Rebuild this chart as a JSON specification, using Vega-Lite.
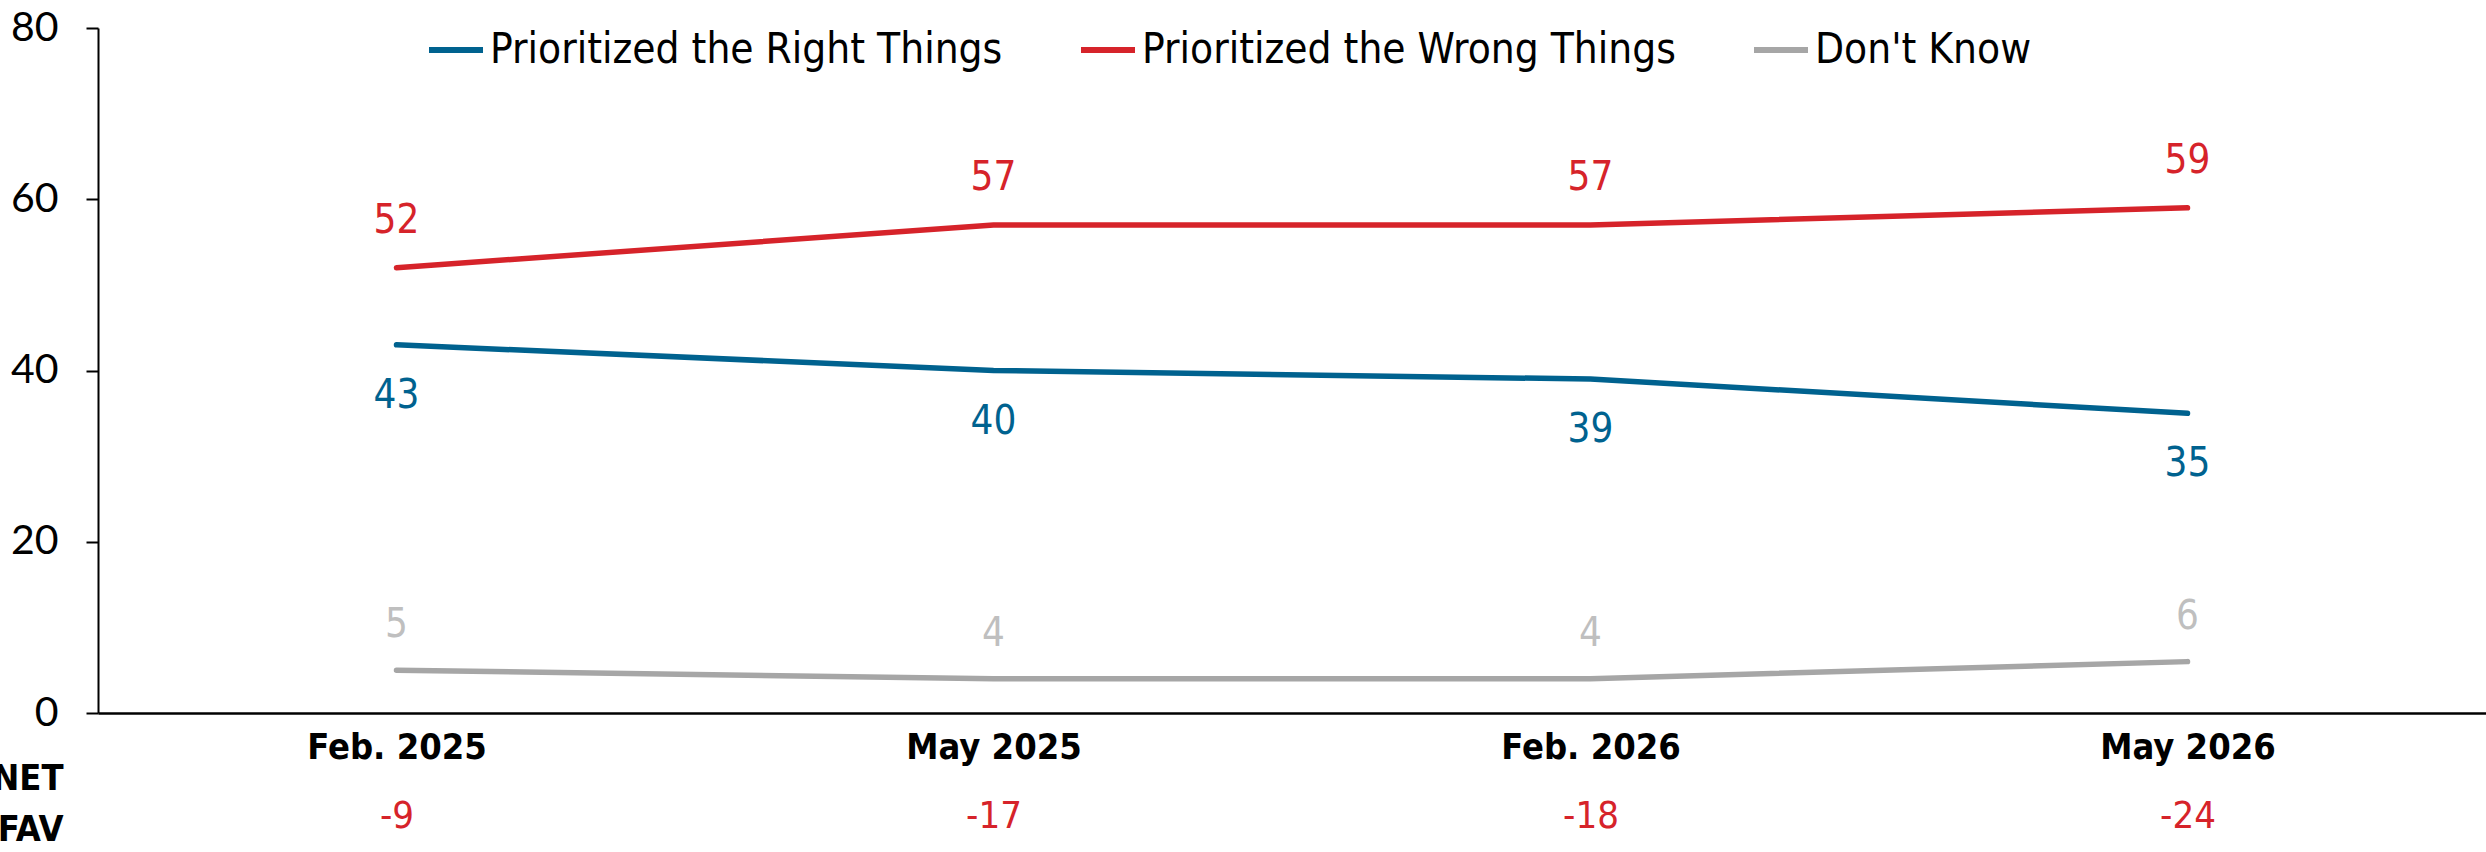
{
  "$schema": "https://vega.github.io/schema/vega-lite/v6.json",
  "autosize": {"type": "none"},
  "width": 2388,
  "height": 685,
  "padding": {"left": 98, "top": 28, "right": 0, "bottom": 139},
  "background": "white",
  "config": {"view": {"stroke": null}, "font": "DejaVu Sans Condensed, Roboto"},
  "datasets": {
    "series": [
      {"period": "Feb. 2025", "series": "Prioritized the Right Things", "value": 43},
      {"period": "May 2025", "series": "Prioritized the Right Things", "value": 40},
      {"period": "Feb. 2026", "series": "Prioritized the Right Things", "value": 39},
      {"period": "May 2026", "series": "Prioritized the Right Things", "value": 35},
      {"period": "Feb. 2025", "series": "Prioritized the Wrong Things", "value": 52},
      {"period": "May 2025", "series": "Prioritized the Wrong Things", "value": 57},
      {"period": "Feb. 2026", "series": "Prioritized the Wrong Things", "value": 57},
      {"period": "May 2026", "series": "Prioritized the Wrong Things", "value": 59},
      {"period": "Feb. 2025", "series": "Don't Know", "value": 5},
      {"period": "May 2025", "series": "Don't Know", "value": 4},
      {"period": "Feb. 2026", "series": "Don't Know", "value": 4},
      {"period": "May 2026", "series": "Don't Know", "value": 6}
    ],
    "net": [
      {"period": "Feb. 2025", "net": "-9"},
      {"period": "May 2025", "net": "-17"},
      {"period": "Feb. 2026", "net": "-18"},
      {"period": "May 2026", "net": "-24"}
    ]
  },
  "layer": [
    {
      "data": {"name": "series"},
      "encoding": {
        "x": {
          "field": "period", "type": "ordinal", "sort": null,
          "scale": {"type": "point", "padding": 0.5},
          "axis": {
            "title": null, "labelAngle": 0, "domainColor": "black", "domainWidth": 2.5,
            "ticks": false, "tickSize": 0, "labelPadding": 34, "labelBaseline": "middle",
            "labelFont": "DejaVu Sans Condensed, Roboto", "labelFontWeight": "bold", "labelFontSize": 36,
            "labelColor": "black", "labelLimit": 1000
          }
        },
        "y": {
          "field": "value", "type": "quantitative",
          "scale": {"domain": [0, 80]},
          "axis": {
            "title": null, "values": [0, 20, 40, 60, 80], "grid": false,
            "domainColor": "black", "domainWidth": 2, "tickColor": "black", "tickWidth": 2,
            "tickSize": 12, "labelPadding": 28, "labelFont": "Lato", "labelFontSize": 41,
            "labelColor": "black"
          }
        },
        "color": {
          "field": "series", "type": "nominal",
          "scale": {
            "domain": ["Prioritized the Right Things", "Prioritized the Wrong Things", "Don't Know"],
            "range": ["#00628F", "#D6232A", "#A6A6A6"]
          },
          "legend": {
            "orient": "none", "legendX": 328, "legendY": -8, "direction": "horizontal",
            "title": null, "symbolType": "stroke", "symbolSize": 2916, "symbolStrokeWidth": 6,
            "labelFont": "DejaVu Sans Condensed, Roboto", "labelFontSize": 42, "labelColor": "black",
            "labelOffset": 4, "columnPadding": 66, "labelLimit": 1000
          }
        }
      },
      "layer": [
        {"mark": {"type": "line", "strokeWidth": 5.5, "strokeCap": "round"}},
        {
          "transform": [{"filter": "datum.series === 'Prioritized the Wrong Things'"}],
          "mark": {"type": "text", "dy": -47, "fontSize": 40, "font": "DejaVu Sans Condensed, Roboto"},
          "encoding": {"text": {"field": "value", "type": "quantitative"}}
        },
        {
          "transform": [{"filter": "datum.series === 'Prioritized the Right Things'"}],
          "mark": {"type": "text", "dy": 51, "fontSize": 40, "font": "DejaVu Sans Condensed, Roboto"},
          "encoding": {"text": {"field": "value", "type": "quantitative"}}
        },
        {
          "transform": [{"filter": "datum.series === \"Don't Know\""}],
          "mark": {"type": "text", "dy": -45, "fontSize": 40, "font": "DejaVu Sans Condensed, Roboto", "color": "#BFBFBF"},
          "encoding": {"text": {"field": "value", "type": "quantitative"}, "color": {"value": "#BFBFBF"}}
        }
      ]
    },
    {
      "data": {"name": "net"},
      "mark": {"type": "point", "opacity": 0},
      "encoding": {
        "x": {
          "field": "net", "type": "ordinal", "sort": null,
          "scale": {"type": "point", "padding": 0.5},
          "axis": {
            "orient": "bottom", "domain": false, "ticks": false, "tickSize": 0, "labelAngle": 0,
            "labelPadding": 103, "labelBaseline": "middle", "labelFontSize": 38,
            "labelColor": "#D6232A", "labelFont": "DejaVu Sans Condensed, Roboto",
            "title": ["NET", "FAV"], "titleX": -35, "titleY": 65, "titleAlign": "right",
            "titleBaseline": "middle", "titleFontSize": 36, "titleFontWeight": "bold",
            "titleLineHeight": 51, "titleAngle": 0, "titleColor": "black",
            "titleFont": "DejaVu Sans Condensed, Roboto"
          }
        }
      }
    }
  ],
  "resolve": {"scale": {"x": "independent"}}
}
